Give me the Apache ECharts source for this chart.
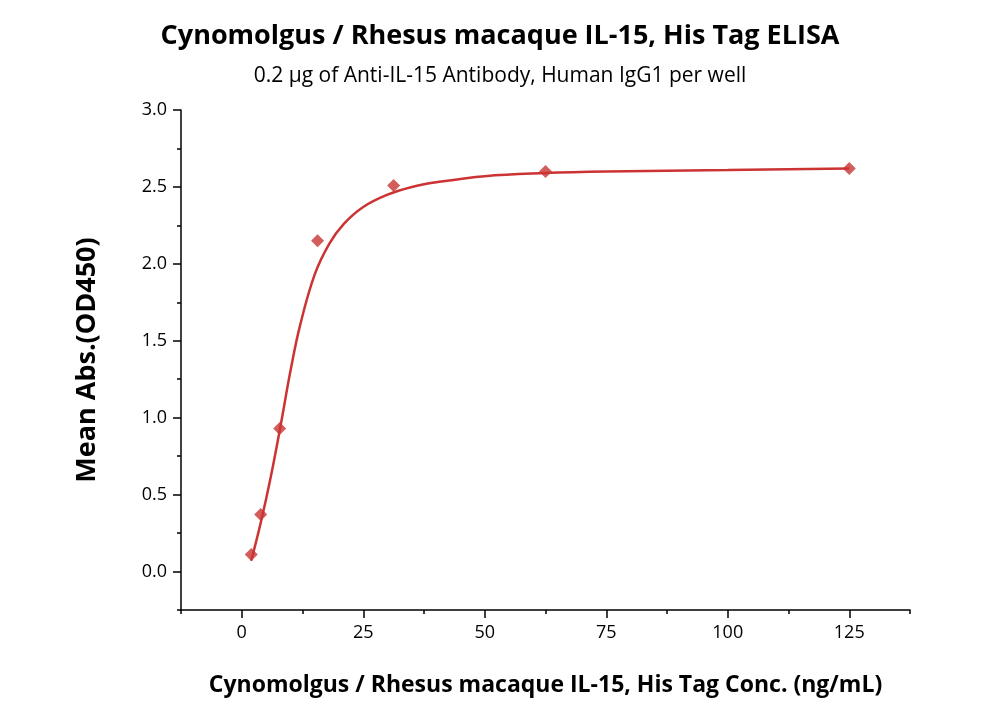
<!DOCTYPE html>
<html><head><meta charset="utf-8">
<script src="https://cdn.jsdelivr.net/npm/echarts@6/dist/echarts.min.js"></script>
<style>html,body{margin:0;padding:0;background:#fff}#c{width:1000px;height:714px}</style>
</head><body><div id="c"></div>
<script>
const concX = [1.95, 3.9, 7.8, 15.6, 31.25, 62.5, 125];
const absY = [0.11, 0.37, 0.93, 2.15, 2.51, 2.60, 2.62];
const curveX = [1.95, 4, 6, 8, 10, 12, 15, 18, 21, 25, 30, 35, 40, 50, 62.5, 75, 100, 125];
const curveY = [0.07, 0.33, 0.62, 0.95, 1.30, 1.60, 1.93, 2.13, 2.26, 2.37, 2.45, 2.50, 2.53, 2.57, 2.59, 2.60, 2.61, 2.62];
const xTicks = [0, 25, 50, 75, 100, 125];
const xMinor = [-12.5, 12.5, 37.5, 62.5, 87.5, 112.5, 137.5];
const yTicks = [0, 0.5, 1.0, 1.5, 2.0, 2.5, 3.0];
const yMinor = [-0.25, 0.25, 0.75, 1.25, 1.75, 2.25, 2.75];
const font = 'Open Sans';
const chart = echarts.init(document.getElementById('c'));
const axLine = {show: true, onZero: false, lineStyle: {color: '#000', width: 1.5}};
chart.setOption({
  animation: false,
  title: [
    {text: 'Cynomolgus / Rhesus macaque IL-15, His Tag ELISA', left: 'center', top: 18,
     textStyle: {fontFamily: font, fontWeight: 'bold', fontSize: 27, color: '#000'}},
    {text: '0.2 µg of Anti-IL-15 Antibody, Human IgG1 per well', left: 'center', top: 61,
     textStyle: {fontFamily: font, fontWeight: 'normal', fontSize: 21, color: '#000'}}
  ],
  grid: {left: 181, right: 90, top: 110, bottom: 104},
  xAxis: [
    {type: 'value', min: -12.5, max: 137.5, axisLine: axLine,
     splitLine: {show: false},
     axisTick: {show: true, customValues: xTicks, length: 8, lineStyle: {color: '#000', width: 1.5}},
     axisLabel: {customValues: xTicks, fontFamily: font, fontSize: 18, color: '#000', margin: 14},
     name: 'Cynomolgus / Rhesus macaque IL-15, His Tag Conc. (ng/mL)', nameLocation: 'middle', nameGap: 64,
     nameTextStyle: {fontFamily: font, fontWeight: 'bold', fontSize: 23, color: '#000'}},
    {type: 'value', min: -12.5, max: 137.5, position: 'bottom', axisLine: {show: false, onZero: false},
     splitLine: {show: false}, axisLabel: {show: false},
     axisTick: {show: true, customValues: xMinor, length: 4, lineStyle: {color: '#000', width: 1.5}}}
  ],
  yAxis: [
    {type: 'value', min: -0.25, max: 3.0, axisLine: axLine, splitLine: {show: false},
     axisTick: {show: true, customValues: yTicks, length: 8, lineStyle: {color: '#000', width: 1.5}},
     axisLabel: {customValues: yTicks, fontFamily: font, fontSize: 18, color: '#000', margin: 14,
       formatter: v => v.toFixed(1)},
     name: 'Mean Abs.(OD450)', nameLocation: 'middle', nameGap: 80,
     nameTextStyle: {fontFamily: font, fontWeight: 'bold', fontSize: 27, color: '#000'}},
    {type: 'value', min: -0.25, max: 3.0, position: 'left', axisLine: {show: false, onZero: false},
     splitLine: {show: false}, axisLabel: {show: false},
     axisTick: {show: true, customValues: yMinor, length: 4, lineStyle: {color: '#000', width: 1.5}}}
  ],
  series: [
    {type: 'line', smooth: 0.4, showSymbol: false, data: curveX.map((x, i) => [x, curveY[i]]),
     lineStyle: {color: '#cc3333', width: 2.5}},
    {type: 'scatter', symbol: 'diamond', symbolSize: 13, data: concX.map((x, i) => [x, absY[i]]),
     itemStyle: {color: '#c83535'}}
  ]
});
</script></body></html>
